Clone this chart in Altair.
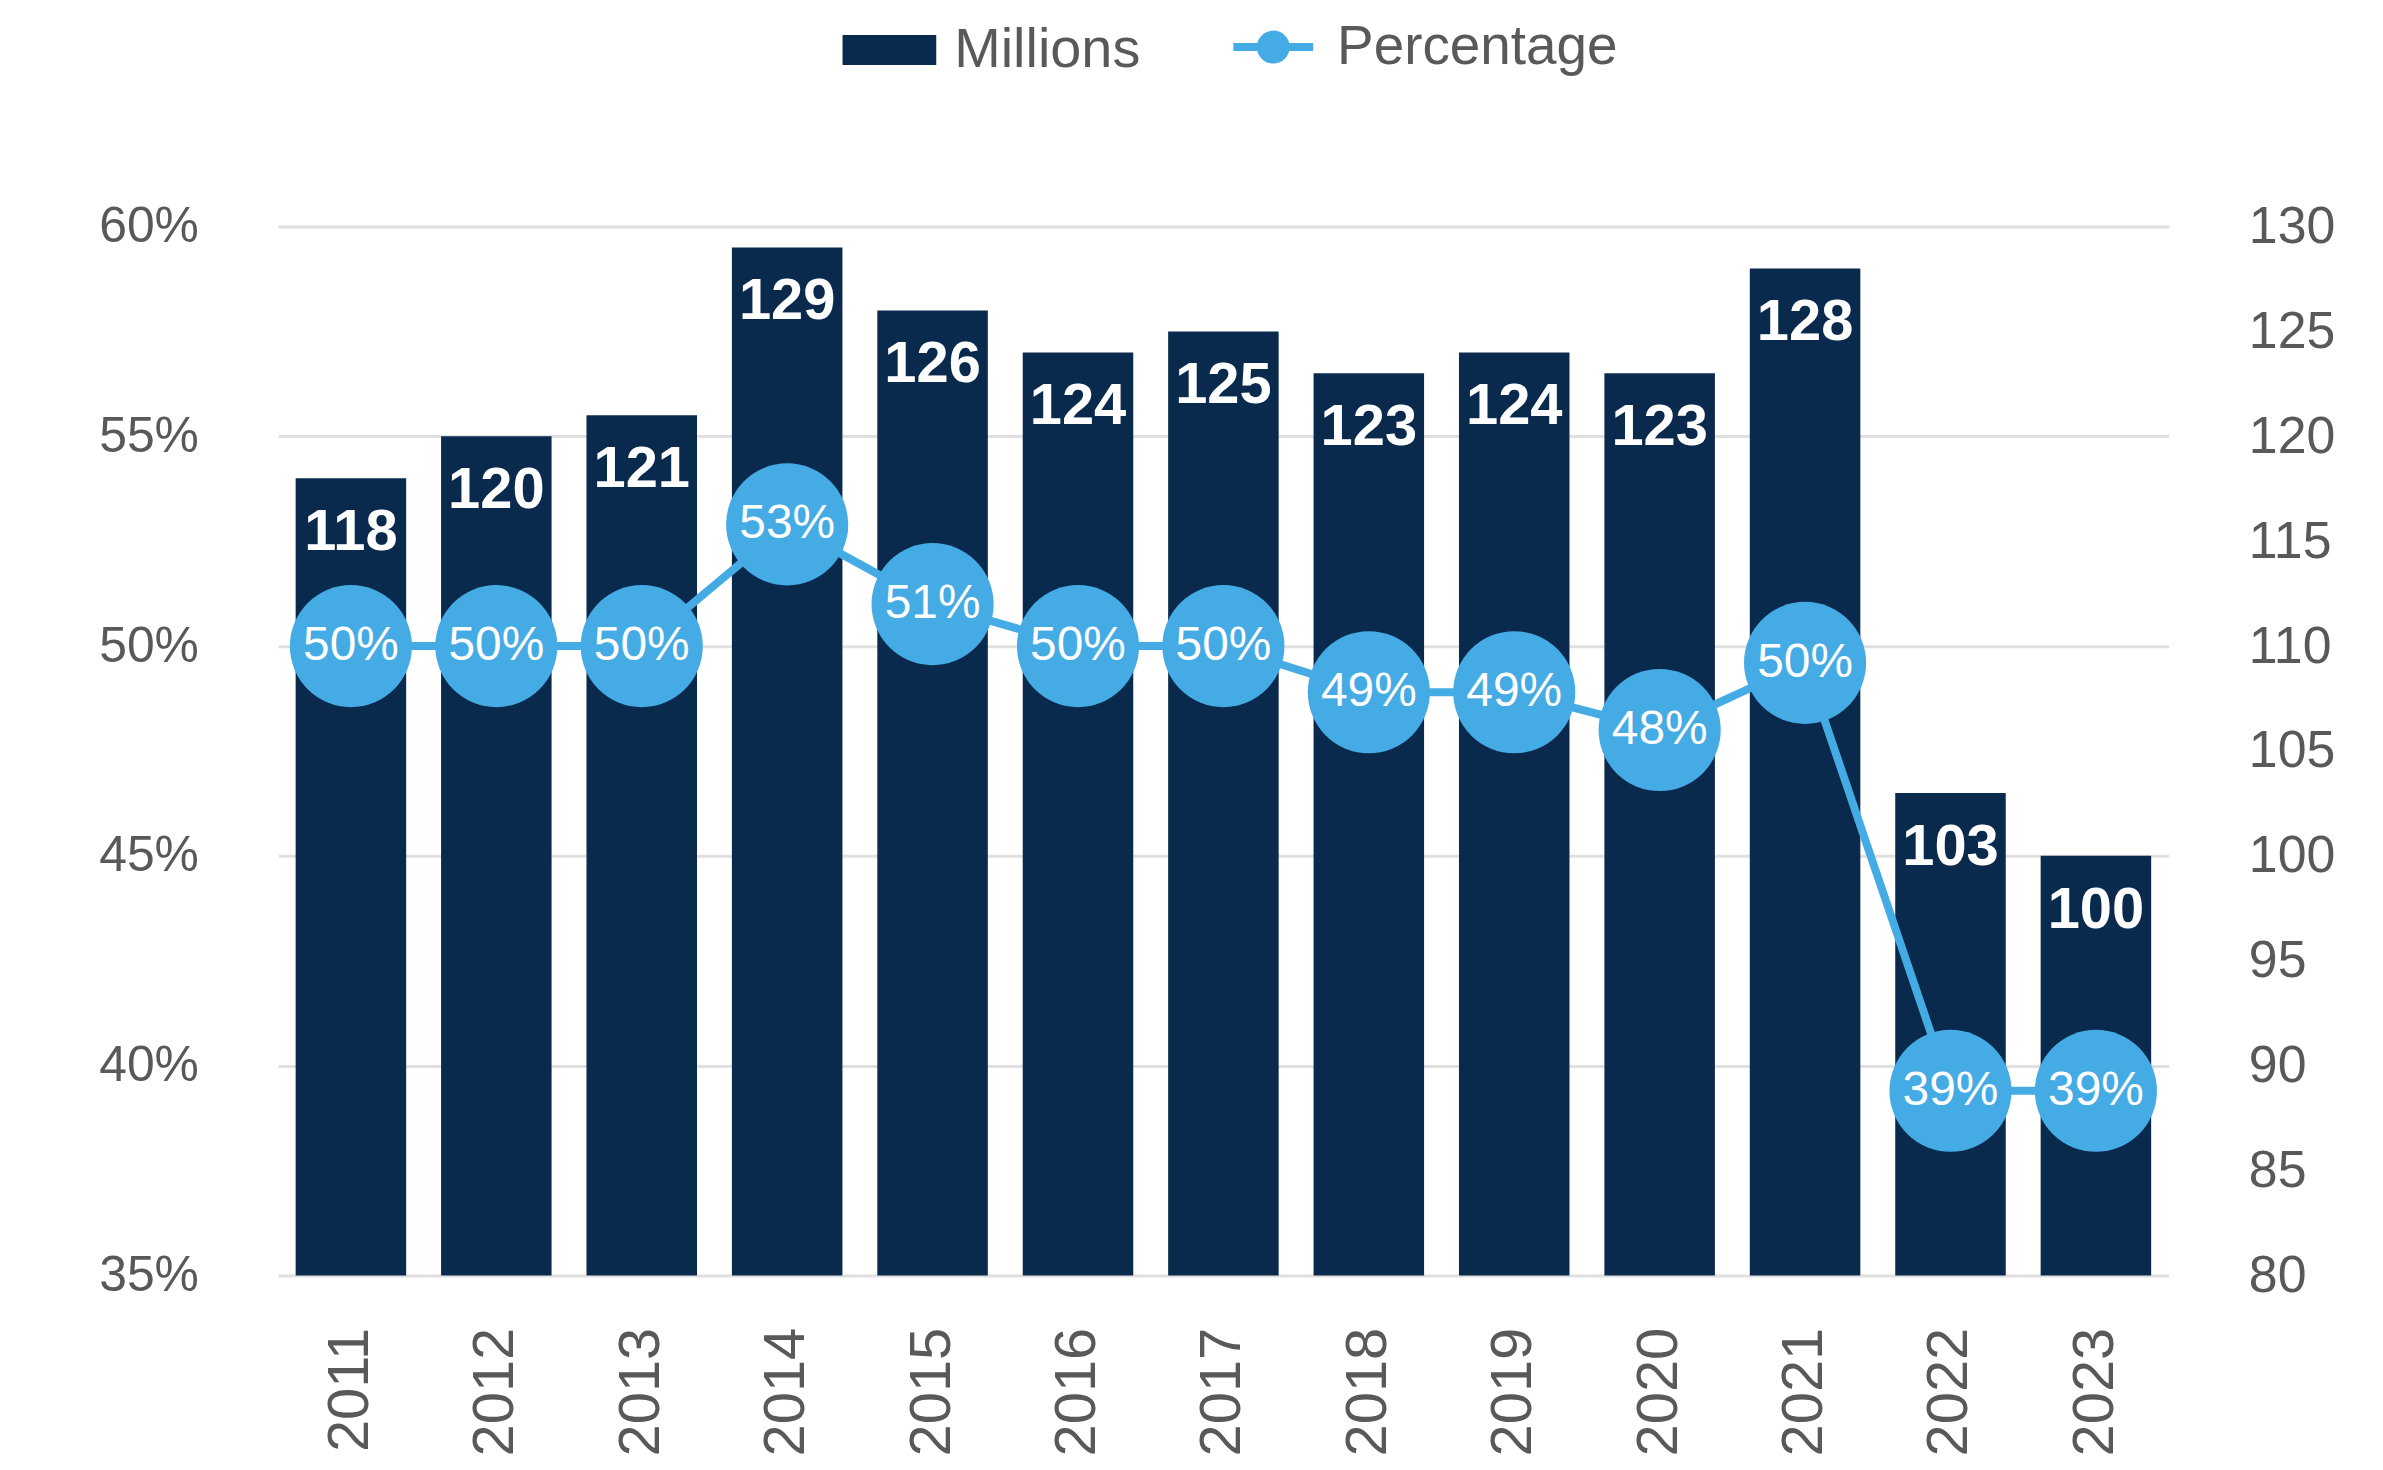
import altair as alt
import pandas as pd

years = ["2011", "2012", "2013", "2014", "2015", "2016", "2017",
         "2018", "2019", "2020", "2021", "2022", "2023"]
millions = [118, 120, 121, 129, 126, 124, 125, 123, 124, 123, 128, 103, 100]
percentage = [0.500, 0.500, 0.500, 0.529, 0.510, 0.500, 0.500,
              0.489, 0.489, 0.480, 0.496, 0.394, 0.394]
left_ticks = [0.35, 0.40, 0.45, 0.50, 0.55, 0.60]
right_ticks = [80, 85, 90, 95, 100, 105, 110, 115, 120, 125, 130]

NAVY = "#0A2A4D"
BLUE = "#45ABE4"
GREY = "#595959"
FONT = "Liberation Sans"

df = pd.DataFrame({
    "year": years,
    "millions": millions,
    "pct": percentage,
    "s_bar": ["Millions"] * len(years),
    "s_line": ["Percentage"] * len(years),
})

base = alt.Chart(df).encode(
    x=alt.X("year:N", sort=years,
            scale=alt.Scale(paddingInner=0.24, paddingOuter=0.12),
            axis=alt.Axis(title=None, labelAngle=-90, labelFontSize=58, labelFont=FONT,
                          labelColor=GREY, labelPadding=52, ticks=False, tickSize=0,
                          domain=False, grid=False))
)

yR = alt.Y("millions:Q",
           scale=alt.Scale(domain=[80, 130], zero=False, nice=False),
           axis=alt.Axis(orient="right", title=None, values=right_ticks, grid=False,
                         ticks=False, tickSize=0, domain=False, labelFontSize=52,
                         labelPadding=80, labelColor=GREY, labelFont=FONT))

yL = alt.Y("pct:Q",
           scale=alt.Scale(domain=[0.35, 0.60], zero=False, nice=False),
           axis=alt.Axis(orient="left", title=None, format=".0%", values=left_ticks,
                         grid=True, gridColor="#E0E0E0", gridWidth=3, ticks=False,
                         tickSize=0, domain=False, labelFontSize=50, labelPadding=80,
                         labelColor=GREY, labelFont=FONT))

bars = base.mark_bar().encode(
    y=yR,
    y2=alt.datum(80),
    color=alt.Color("s_bar:N",
                    scale=alt.Scale(domain=["Millions"], range=[NAVY]),
                    legend=alt.Legend(orient="none", legendX=566, legendY=-224, title=None,
                                      symbolType="M-1,-0.32H1V0.32H-1Z", symbolSize=8836,
                                      symbolStrokeWidth=0, labelFontSize=56, labelFont=FONT,
                                      labelColor=GREY, labelOffset=18, labelLimit=0)),
)
bar_text = base.mark_text(color="white", fontWeight="bold", fontSize=58, font=FONT,
                          baseline="middle", dy=55).encode(
    y=yR, text=alt.Text("millions:Q"))

ring = ("M-1,0H1"
        "M0.3125,0A0.3125,0.3125 0 1 1 -0.3125,0A0.3125,0.3125 0 1 1 0.3125,0"
        "M0.125,0A0.125,0.125 0 1 1 -0.125,0A0.125,0.125 0 1 1 0.125,0"
        "M0.025,0A0.025,0.025 0 1 1 -0.025,0A0.025,0.025 0 1 1 0.025,0")

line = base.mark_line(strokeWidth=8).encode(
    y=yL,
    stroke=alt.Stroke("s_line:N",
                      scale=alt.Scale(domain=["Percentage"], range=[BLUE]),
                      legend=alt.Legend(orient="none", legendX=954, legendY=-224, title=None,
                                        symbolType=ring, symbolSize=6400, symbolStrokeWidth=8,
                                        symbolFillColor=BLUE, labelFontSize=55, labelFont=FONT,
                                        labelColor=GREY, labelOffset=20, labelLimit=0)),
)
points = base.mark_circle(size=15000, color=BLUE, opacity=1).encode(y=yL)
pct_text = base.mark_text(color="white", fontSize=48, font=FONT, baseline="middle").encode(
    y=yL, text=alt.Text("pct:Q", format=".0%"))

chart = alt.layer(
    alt.layer(bars, bar_text),
    alt.layer(line, points, pct_text),
).resolve_scale(y="independent").properties(
    width=1896, height=1052,
    padding={"left": 90, "top": -7, "right": 40, "bottom": 10},
).configure_view(stroke=None)

chart.save("out.html", embed_options={"renderer": "svg", "actions": False})
